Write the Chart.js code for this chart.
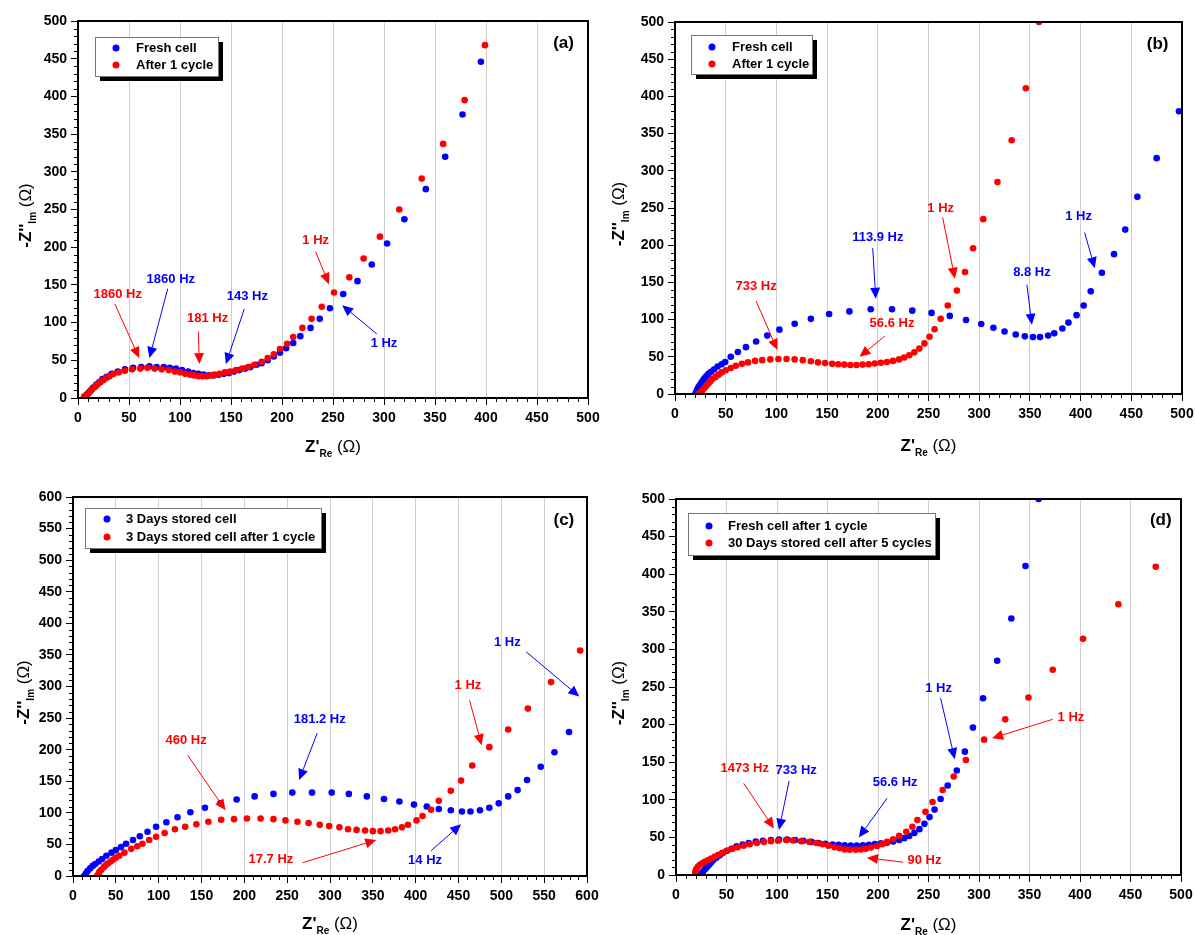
<!DOCTYPE html>
<html>
<head>
<meta charset="utf-8">
<script src="https://cdn.jsdelivr.net/npm/chart.js@4.4.0/dist/chart.umd.min.js"></script>
<style>
  body { margin: 0; background: #fff; width: 1195px; height: 935px; overflow: hidden; position: relative; }
  canvas { position: absolute; }
</style>
</head>
<body>
<canvas id="chartA" width="615" height="467" style="left:0;top:0"></canvas>
<canvas id="chartB" width="598" height="467" style="left:597px;top:0"></canvas>
<canvas id="chartC" width="615" height="468" style="left:0;top:467px"></canvas>
<canvas id="chartD" width="598" height="468" style="left:597px;top:467px"></canvas>
<script>
// Nyquist data, [Z'Re, -Z''Im] in ohm
const freshA = [[7,2],[9,5],[11,8],[13,11],[15,14],[18,18],[21,21],[24,25],[28,28],[33,32],[39,35],[46,38],[54,40],[62,41],[70,42],[77,41],[84,41],[90,40],[96,39],[102,37],[108,35],[113,33],[118,32],[123,31],[128,30],[133,30],[138,31],[143,32],[148,33],[153,35],[158,37],[164,39],[169,41],[175,44],[180,46],[186,50],[192,55],[198,60],[204,66],[211,73],[218,82],[228,93],[237,105],[247,119],[260,138],[274,155],[288,177],[303,205],[320,237],[341,277],[360,320],[377,376],[395,446]];
const cycleA = [[6,2],[8,4],[10,6],[12,9],[14,12],[17,15],[19,18],[22,21],[25,24],[28,27],[31,29],[35,32],[40,34],[46,36],[53,38],[61,39],[68,40],[75,39],[82,38],[89,37],[95,35],[100,34],[105,32],[110,31],[114,30],[118,29],[122,29],[126,29],[130,30],[134,31],[139,32],[144,34],[149,35],[155,37],[161,39],[167,41],[173,44],[180,48],[186,53],[192,58],[198,65],[205,72],[211,81],[220,93],[229,105],[239,121],[251,140],[266,160],[280,185],[296,214],[315,250],[337,291],[358,337],[379,395],[399,468]];

const freshB = [[20,0],[21,3],[22,6],[23,9],[24.5,12],[26,15],[27.5,18],[29,21],[31,24],[33,27],[35.5,30],[38.5,33],[42,37],[46,40],[49.5,43],[55,50],[62,56.5],[70,63],[80,70.5],[91,78.5],[103,86.5],[118,94.5],[134,101],[152,107.5],[172,111],[193,114],[214,114],[234,112],[253,109],[271,105],[287,99.5],[302,94],[314,89],[325,84],[336,80],[345,77.5],[353,76.5],[360,76.5],[368,78.5],[374,81.5],[382,88],[388,96],[396,106],[403,119],[410,138],[421,163],[433,188],[444,221],[456,265],[475,317],[497,380]];
const cycleB = [[23,0],[25,2],[27,5],[29,8],[31,11],[33,14],[35,17],[37,20],[40,23],[43,26],[46,29],[50,32],[55,35],[60,38],[66,40.5],[72,42.5],[79,44.5],[86,45.5],[94,46.5],[102,47],[110,47],[118,46.5],[126,45.5],[134,44],[141,42.5],[148,41.5],[155,40.5],[161,40],[167,39.5],[173,39],[179,39],[185,39.5],[191,40],[197,41],[203,42],[209,43],[215,44.5],[221,46.5],[226,49],[231,52],[236,56],[241,61],[246,68],[251,77],[256,87],[262,101],[269,119],[278,139],[286,164],[294,196],[304,235],[318,285],[332,341],[346,411],[359,500]];

const stored3C = [[13,0],[15,4],[17,8],[20,12],[23,16],[26,19],[30,23],[34,27],[39,32],[45,37],[50,41],[56,46],[62,51],[70,57],[78,63],[87,70],[97,78],[109,85],[122,93],[137,101],[154,108],[172,115],[191,121],[212,126],[234,130],[256,132],[279,132],[302,132],[322,130],[343,126],[363,122],[381,118],[398,113],[413,110],[427,106],[441,104],[454,102],[464,102],[475,104],[486,108],[497,115],[508,126],[519,136],[530,152],[546,173],[562,196],[579,228]];
const stored3CycleC = [[28,0],[30,4],[31,7],[33,10],[36,14],[38,17],[41,20],[44,23],[47,26],[50,29],[54,32],[60,37],[68,43],[75,47],[81,51],[89,57],[97,62],[107,68],[119,74],[131,78],[144,82],[158,86],[173,89],[188,90],[203,91],[219,91],[234,90],[248,88],[262,86],[275,84],[288,81],[299,79],[311,77],[321,74],[331,73],[341,72],[350,71],[359,71],[368,72],[376,74],[384,77],[391,81],[401,88],[408,95],[418,105],[427,119],[441,135],[453,151],[466,175],[486,204],[508,232],[531,265],[558,307],[592,357]];

const freshCycleD = cycleB;
const stored30D = [[19,3],[19.5,6],[20.5,9],[22,11.5],[24,14],[26.5,16],[29,18],[32,20],[35,22],[38.5,24.5],[42,27],[46,29.5],[51,32.5],[56,35],[61,37],[67,39],[73,41],[80,42.5],[87,44],[94,45],[101,45.5],[109,46.5],[116,46],[124,45],[132,44],[139,42.5],[145,41],[151,39],[157,37],[162,35.5],[167,34],[172,33.5],[178,33.5],[183,34],[188,35],[193,36.5],[199,38.5],[204,41],[209,44],[215,47.5],[221,52],[228,57.5],[234,64],[239,73],[247,84],[254,97],[264,113],[275,131],[287,153],[305,180],[326,207],[349,236],[373,273],[403,314],[438,360],[475,410]];

const labelsA = ['Fresh cell', 'After 1 cycle'];
const labelsB = ['Fresh cell', 'After 1 cycle'];
const labelsC = ['3 Days stored cell', '3 Days stored cell after 1 cycle'];
const labelsD = ['Fresh cell after 1 cycle', '30 Days stored cell after 5 cycles'];

const RED = '#ff0000';
const BLUE = '#0000ff';
const FONT = '"Liberation Sans", Arial, sans-serif';

// frequency markers: label position and arrow from (x1,y1) to tip (x2,y2), data units
const notesA = [
  { t: '1860 Hz', c: RED, tx: 39, ty: 137, x1: 36, y1: 125, x2: 60, y2: 53 },
  { t: '1860 Hz', c: BLUE, tx: 91, ty: 157, x1: 88, y1: 145, x2: 70, y2: 53 },
  { t: '181 Hz', c: RED, tx: 127, ty: 106, x1: 118, y1: 88, x2: 119, y2: 45 },
  { t: '143 Hz', c: BLUE, tx: 166, ty: 135, x1: 163, y1: 118, x2: 145, y2: 45 },
  { t: '1 Hz', c: RED, tx: 233, ty: 209, x1: 233, y1: 194, x2: 246, y2: 151 },
  { t: '1 Hz', c: BLUE, tx: 300, ty: 72, x1: 293, y1: 85, x2: 259, y2: 123 }
];
const notesB = [
  { t: '733 Hz', c: RED, tx: 80, ty: 144, x1: 80, y1: 125, x2: 101, y2: 59 },
  { t: '56.6 Hz', c: RED, tx: 214, ty: 95, x1: 207, y1: 78, x2: 182, y2: 50 },
  { t: '113.9 Hz', c: BLUE, tx: 200, ty: 211, x1: 195, y1: 196, x2: 198, y2: 128 },
  { t: '1 Hz', c: RED, tx: 262, ty: 249, x1: 264, y1: 237, x2: 276, y2: 155 },
  { t: '8.8 Hz', c: BLUE, tx: 352, ty: 164, x1: 347, y1: 147, x2: 352, y2: 93 },
  { t: '1 Hz', c: BLUE, tx: 398, ty: 239, x1: 404, y1: 217, x2: 414, y2: 169 }
];
const notesC = [
  { t: '460 Hz', c: RED, tx: 132, ty: 214, x1: 134, y1: 191, x2: 178, y2: 104 },
  { t: '181.2 Hz', c: BLUE, tx: 288, ty: 248, x1: 285, y1: 226, x2: 264, y2: 152 },
  { t: '17.7 Hz', c: RED, tx: 231, ty: 27, x1: 268, y1: 21, x2: 354, y2: 57 },
  { t: '14 Hz', c: BLUE, tx: 411, ty: 24, x1: 418, y1: 40, x2: 453, y2: 82 },
  { t: '1 Hz', c: RED, tx: 461, ty: 301, x1: 463, y1: 278, x2: 477, y2: 207 },
  { t: '1 Hz', c: BLUE, tx: 507, ty: 369, x1: 529, y1: 355, x2: 591, y2: 284 }
];
const notesD = [
  { t: '1473 Hz', c: RED, tx: 68, ty: 142, x1: 67, y1: 122, x2: 97, y2: 62 },
  { t: '733 Hz', c: BLUE, tx: 119, ty: 139, x1: 112, y1: 125, x2: 102, y2: 60 },
  { t: '56.6 Hz', c: BLUE, tx: 217, ty: 123, x1: 209, y1: 102, x2: 181, y2: 50 },
  { t: '90 Hz', c: RED, tx: 246, ty: 19, x1: 225, y1: 17, x2: 189, y2: 23 },
  { t: '1 Hz', c: BLUE, tx: 260, ty: 248, x1: 262, y1: 235, x2: 276, y2: 154 },
  { t: '1 Hz', c: RED, tx: 391, ty: 210, x1: 373, y1: 207, x2: 313, y2: 182 }
];

const decorPlugin = {
  id: 'decor',
  afterDraw(chart, args, opts) {
    const ctx = chart.ctx;
    const ca = chart.chartArea;
    const xs = chart.scales.x;
    const ys = chart.scales.y;
    ctx.save();

    // minor ticks
    ctx.strokeStyle = '#000';
    ctx.lineWidth = 1;
    const nx = Math.round((xs.max - xs.min) / 10);
    for (let i = 0; i <= nx; i++) {
      if (i % 5 === 0) continue;
      const px = Math.round(xs.getPixelForValue(xs.min + i * 10)) + 0.5;
      ctx.beginPath(); ctx.moveTo(px, ca.bottom); ctx.lineTo(px, ca.bottom + 4); ctx.stroke();
    }
    const ny = Math.round((ys.max - ys.min) / 10);
    for (let i = 0; i <= ny; i++) {
      if (i % 5 === 0) continue;
      const py = Math.round(ys.getPixelForValue(ys.min + i * 10)) + 0.5;
      ctx.beginPath(); ctx.moveTo(ca.left - 4, py); ctx.lineTo(ca.left, py); ctx.stroke();
    }

    // frame
    ctx.lineWidth = 2;
    ctx.strokeRect(ca.left, ca.top, ca.right - ca.left, ca.bottom - ca.top);

    // frequency arrows
    opts.notes.forEach(n => {
      const x1 = xs.getPixelForValue(n.x1), y1 = ys.getPixelForValue(n.y1);
      const x2 = xs.getPixelForValue(n.x2), y2 = ys.getPixelForValue(n.y2);
      const ang = Math.atan2(y2 - y1, x2 - x1);
      const hl = 11, hw = 5;
      const bx = x2 - hl * Math.cos(ang), by = y2 - hl * Math.sin(ang);
      ctx.strokeStyle = n.c;
      ctx.fillStyle = n.c;
      ctx.lineWidth = 1;
      ctx.beginPath(); ctx.moveTo(x1, y1); ctx.lineTo(bx, by); ctx.stroke();
      ctx.beginPath();
      ctx.moveTo(x2, y2);
      ctx.lineTo(bx + hw * Math.sin(ang), by - hw * Math.cos(ang));
      ctx.lineTo(bx - hw * Math.sin(ang), by + hw * Math.cos(ang));
      ctx.closePath(); ctx.fill();
      ctx.font = 'bold 13px ' + FONT;
      ctx.textAlign = 'center';
      ctx.textBaseline = 'middle';
      ctx.fillText(n.t, xs.getPixelForValue(n.tx), ys.getPixelForValue(n.ty));
    });

    // legend box with drop shadow
    const lg = opts.legend;
    ctx.fillStyle = '#000';
    ctx.fillRect(lg.x + 5, lg.y + 5, lg.w, lg.h);
    ctx.fillStyle = '#fff';
    ctx.fillRect(lg.x, lg.y, lg.w, lg.h);
    ctx.strokeStyle = '#777';
    ctx.lineWidth = 1;
    ctx.strokeRect(lg.x + 0.5, lg.y + 0.5, lg.w, lg.h);
    chart.data.datasets.forEach((ds, i) => {
      const yy = lg.y + lg.row0 + i * lg.gap;
      ctx.fillStyle = ds.backgroundColor;
      ctx.beginPath(); ctx.arc(lg.x + lg.dot, yy, 3.5, 0, Math.PI * 2); ctx.fill();
      ctx.fillStyle = '#000';
      ctx.font = 'bold 13px ' + FONT;
      ctx.textAlign = 'left';
      ctx.textBaseline = 'middle';
      ctx.fillText(ds.label, lg.x + lg.text, yy);
    });

    // panel tag
    ctx.font = 'bold 17px ' + FONT;
    ctx.textAlign = 'center';
    ctx.textBaseline = 'middle';
    ctx.fillStyle = '#000';
    ctx.fillText(opts.tag, xs.getPixelForValue(opts.tagX), ys.getPixelForValue(opts.tagY));

    // axis titles with subscripts
    drawSubTitle(ctx, 'Z\'', 'Re', (ca.left + ca.right) / 2, opts.xTitleY);
    ctx.save();
    ctx.translate(opts.yTitleX, (ca.top + ca.bottom) / 2 + 6);
    ctx.rotate(-Math.PI / 2);
    drawSubTitle(ctx, '-Z\'\'', 'Im', 0, 0);
    ctx.restore();

    ctx.restore();
  }
};

function drawSubTitle(ctx, main, sub, cx, cy) {
  const big = 'bold 17px ' + FONT;
  const small = 'bold 10px ' + FONT;
  const tail = '17px ' + FONT;
  ctx.textBaseline = 'middle';
  ctx.textAlign = 'left';
  ctx.font = big; const w1 = ctx.measureText(main).width;
  ctx.font = small; const w2 = ctx.measureText(sub).width;
  ctx.font = tail; const w3 = ctx.measureText(' (Ω)').width;
  let x = cx - (w1 + w2 + w3) / 2;
  ctx.fillStyle = '#000';
  ctx.font = big; ctx.fillText(main, x, cy); x += w1;
  ctx.font = small; ctx.fillText(sub, x, cy + 7); x += w2;
  ctx.font = tail; ctx.fillText(' (Ω)', x, cy);
}

function makePanel(id, cfg) {
  const canvas = document.getElementById(id);
  const cw = canvas.width, ch = canvas.height;
  new Chart(canvas.getContext('2d'), {
    type: 'scatter',
    data: {
      datasets: [
        { label: cfg.labels[0], data: cfg.blue.map(p => ({ x: p[0], y: p[1] })), backgroundColor: BLUE, order: 2 },
        { label: cfg.labels[1], data: cfg.red.map(p => ({ x: p[0], y: p[1] })), backgroundColor: RED, order: 1 }
      ]
    },
    options: {
      responsive: false,
      animation: false,
      layout: { padding: { top: cfg.area.t, right: cw - cfg.area.r, left: 0, bottom: 0 } },
      elements: { point: { radius: 3.3, borderWidth: 0, hoverRadius: 3.3 } },
      plugins: {
        legend: { display: false },
        tooltip: { enabled: false },
        decor: { notes: cfg.notes, legend: cfg.legend, tag: cfg.tag, tagX: cfg.tagX, tagY: cfg.tagY, xTitleY: cfg.xTitleY, yTitleX: cfg.yTitleX }
      },
      scales: {
        x: {
          type: 'linear', min: 0, max: cfg.xMax,
          afterFit(s) { s.height = ch - cfg.area.b; s.paddingLeft = 0; s.paddingRight = 0; },
          ticks: { stepSize: 50, color: '#000', font: { family: FONT, size: 14, weight: 'bold' }, padding: 5, maxRotation: 0 },
          grid: { color: '#cfcfcf', lineWidth: 1, tickColor: '#000', tickLength: 7, tickWidth: 1 },
          border: { color: '#000', width: 2 }
        },
        y: {
          type: 'linear', min: 0, max: cfg.yMax,
          afterFit(s) { s.width = cfg.area.l; s.paddingTop = 0; s.paddingBottom = 0; },
          ticks: { stepSize: 50, color: '#000', font: { family: FONT, size: 14, weight: 'bold' }, padding: 4 },
          grid: { drawOnChartArea: false, tickColor: '#000', tickLength: 7, tickWidth: 1 },
          border: { color: '#000', width: 2 }
        }
      }
    },
    plugins: [decorPlugin]
  });
}

makePanel('chartA', {
  labels: labelsA, blue: freshA, red: cycleA, notes: notesA, xMax: 500, yMax: 500,
  area: { l: 78, t: 21, r: 588, b: 398 },
  legend: { x: 95, y: 37, w: 123, h: 39, row0: 11, gap: 17, dot: 21, text: 41 },
  tag: '(a)', tagX: 476, tagY: 470, xTitleY: 447, yTitleX: 26
});
makePanel('chartB', {
  labels: labelsB, blue: freshB, red: cycleB, notes: notesB, xMax: 500, yMax: 500,
  area: { l: 78, t: 22, r: 585, b: 394 },
  legend: { x: 94, y: 35, w: 121, h: 39, row0: 12, gap: 17, dot: 21, text: 41 },
  tag: '(b)', tagX: 476, tagY: 470, xTitleY: 446, yTitleX: 22
});
makePanel('chartC', {
  labels: labelsC, blue: stored3C, red: stored3CycleC, notes: notesC, xMax: 600, yMax: 600,
  area: { l: 73, t: 30, r: 587, b: 409 },
  legend: { x: 85, y: 41, w: 236, h: 40, row0: 11, gap: 18, dot: 22, text: 41 },
  tag: '(c)', tagX: 573, tagY: 563, xTitleY: 457, yTitleX: 24
});
makePanel('chartD', {
  labels: labelsD, blue: freshCycleD, red: stored30D, notes: notesD, xMax: 500, yMax: 500,
  area: { l: 79, t: 32, r: 584, b: 408 },
  legend: { x: 91, y: 46, w: 247, h: 42, row0: 13, gap: 17, dot: 21, text: 40 },
  tag: '(d)', tagX: 480, tagY: 471, xTitleY: 458, yTitleX: 22
});
</script>
</body>
</html>
